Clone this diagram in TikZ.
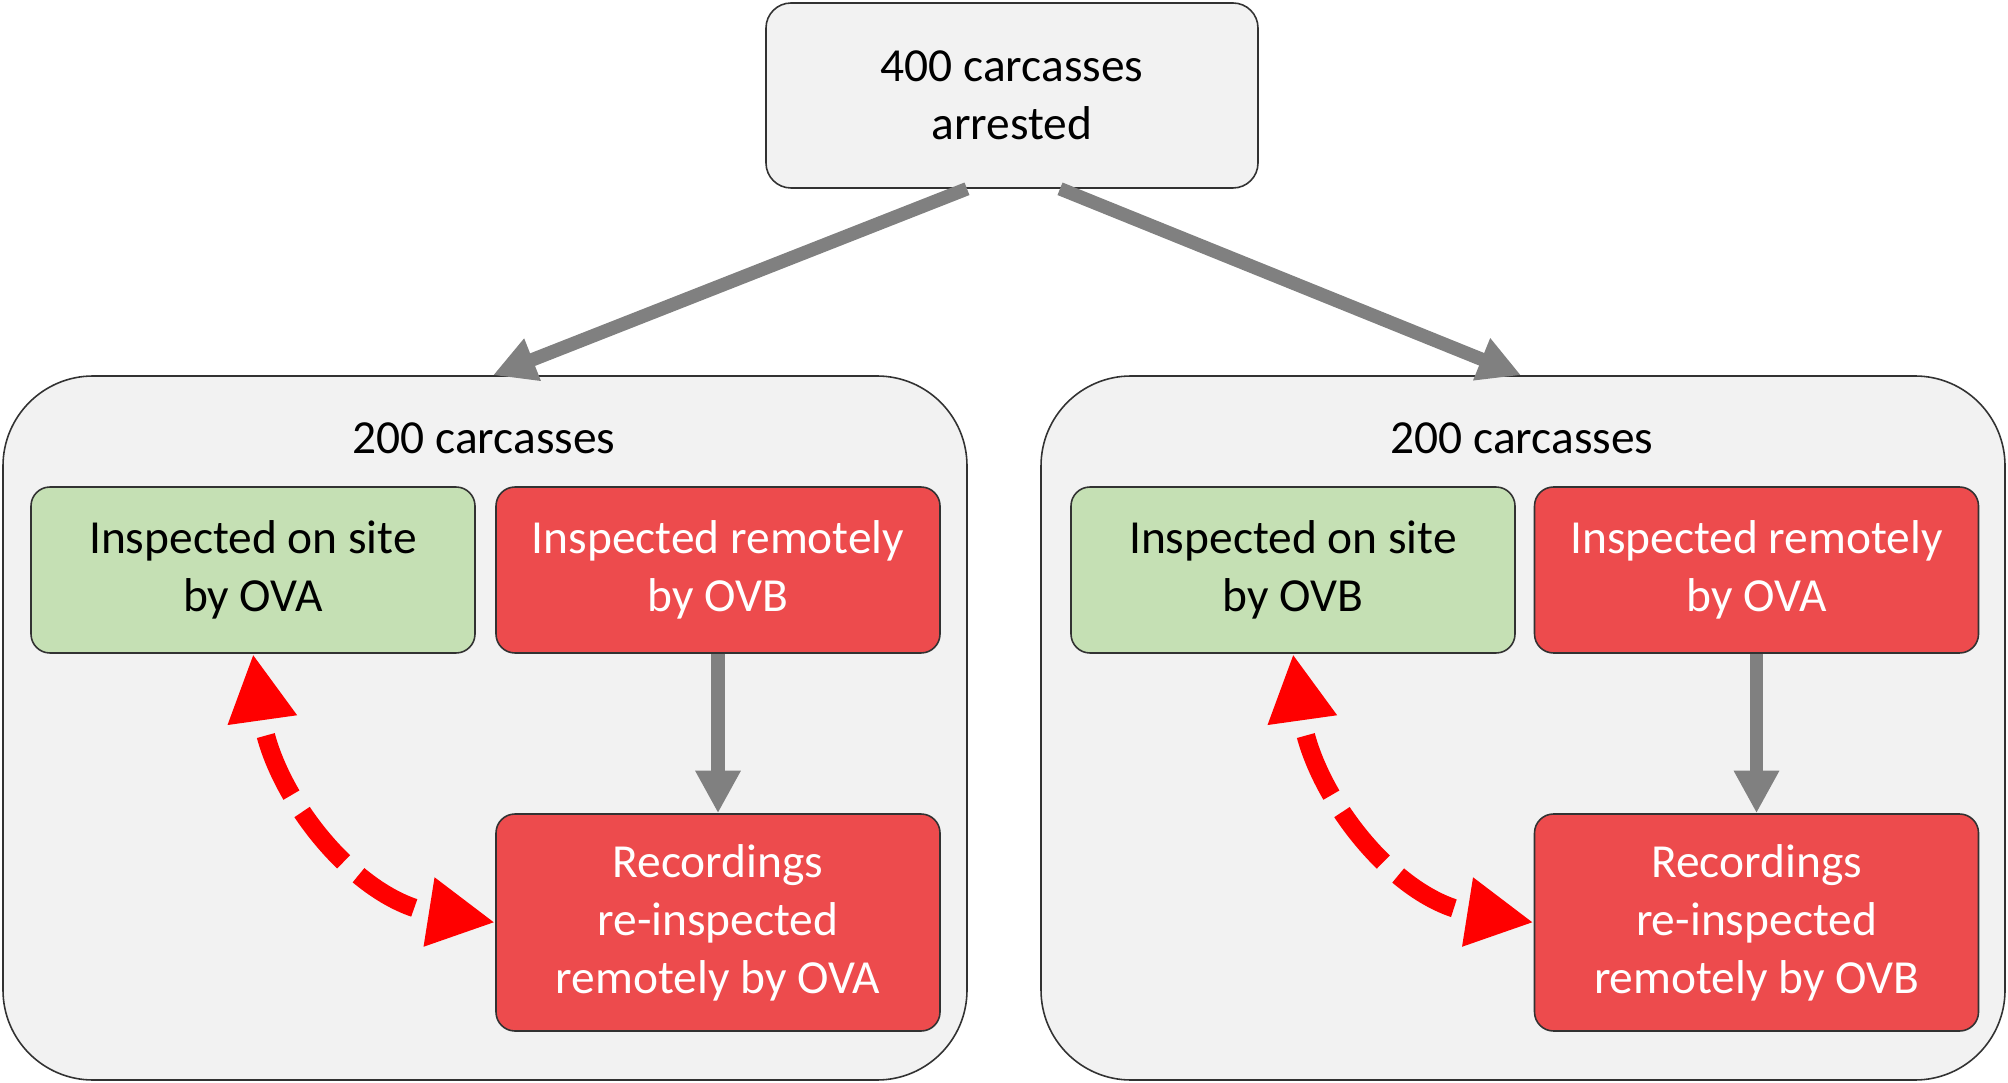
\documentclass[tikz,border=0pt]{standalone}
\usepackage{fontspec}
\setmainfont{Carlito}
\usetikzlibrary{arrows.meta,positioning}
\definecolor{CcEdge}{RGB}{50,50,50}
\definecolor{CcBack}{RGB}{242,242,242}
\definecolor{CcGreen}{RGB}{197,224,180}
\definecolor{CcRed}{RGB}{237,75,77}
\definecolor{CcGray}{RGB}{128,128,128}
\definecolor{CcArrowRed}{RGB}{255,0,0}
\tikzset{
  cc/group/.style={
    draw=CcEdge,
    line width=0.9pt,
    rounded corners=1.8cm,
    fill=CcBack,
    minimum width=19.28cm,
    minimum height=14.08cm
  },
  cc/top/.style={
    draw=CcEdge,
    line width=0.9pt,
    rounded corners=0.5cm,
    fill=CcBack,
    align=center,
    text=black,
    font=\fontsize{27}{33}\selectfont
  },
  cc/site/.style={
    draw=CcEdge,
    line width=0.9pt,
    rounded corners=0.38cm,
    fill=CcGreen,
    align=center,
    text=black,
    minimum width=8.88cm,
    minimum height=3.32cm,
    font=\fontsize{27}{33}\selectfont
  },
  cc/remote/.style={
    draw=CcEdge,
    line width=0.9pt,
    rounded corners=0.38cm,
    fill=CcRed,
    align=center,
    text=white,
    minimum width=8.88cm,
    minimum height=3.32cm,
    font=\fontsize{27}{33}\selectfont
  },
  cc/label/.style={font=\fontsize{27}{33}\selectfont, text=black},
  cc/arrow/.style={-{Triangle[length=0.85cm,width=0.85cm]}, line width=0.27cm, draw=CcGray},
  cc/redarrow/.style={{Triangle[length=1.34cm,width=1.3cm]}-{Triangle[length=1.34cm,width=1.3cm]},
    line width=0.37cm, draw=CcArrowRed, dash pattern=on 1.3cm off 0.4cm, dash phase=1.3cm}
}

\begin{document}
\begin{tikzpicture}[x=1cm,y=1cm]
  \useasboundingbox (0,0) rectangle (40.16,21.64);
  \node[cc/top,minimum width=9.84cm,minimum height=3.7cm] (total) at (20.24,19.73) {400 carcasses\\arrested};

  % left half
  \node[cc/group] (grpA) at (9.7,7.08) {};
  \node[cc/label] (cntA) at (9.68,12.88) {200 carcasses};
  \node[cc/site] (siteA) at (5.06,10.24) {Inspected on site\\by OVA};
  \node[cc/remote] (remoteA) at (14.36,10.24) {Inspected remotely\\by OVB};
  \node[cc/remote,minimum height=4.34cm] (recA) at (14.36,3.19) {Recordings\\re-inspected\\remotely by OVA};

  % right half
  \node[cc/group] (grpB) at (30.46,7.08) {};
  \node[cc/label] (cntB) at (30.44,12.88) {200 carcasses};
  \node[cc/site] (siteB) at (25.86,10.24) {Inspected on site\\by OVB};
  \node[cc/remote] (remoteB) at (35.13,10.24) {Inspected remotely\\by OVA};
  \node[cc/remote,minimum height=4.34cm] (recB) at (35.13,3.19) {Recordings\\re-inspected\\remotely by OVB};

  \draw[cc/arrow] ([xshift=-0.9cm]total.south) -- ([xshift=0.16cm]grpA.north);
  \draw[cc/arrow] ([xshift=0.96cm]total.south) -- ([xshift=-0.04cm]grpB.north);
  \draw[cc/arrow] (remoteA) -- (recA);
  \draw[cc/arrow] (remoteB) -- (recB);
  \draw[cc/redarrow] (siteA.south) to[out=-82,in=171] (recA.west);
  \draw[cc/redarrow] (siteB.south) to[out=-82,in=171] (recB.west);
\end{tikzpicture}
\end{document}
